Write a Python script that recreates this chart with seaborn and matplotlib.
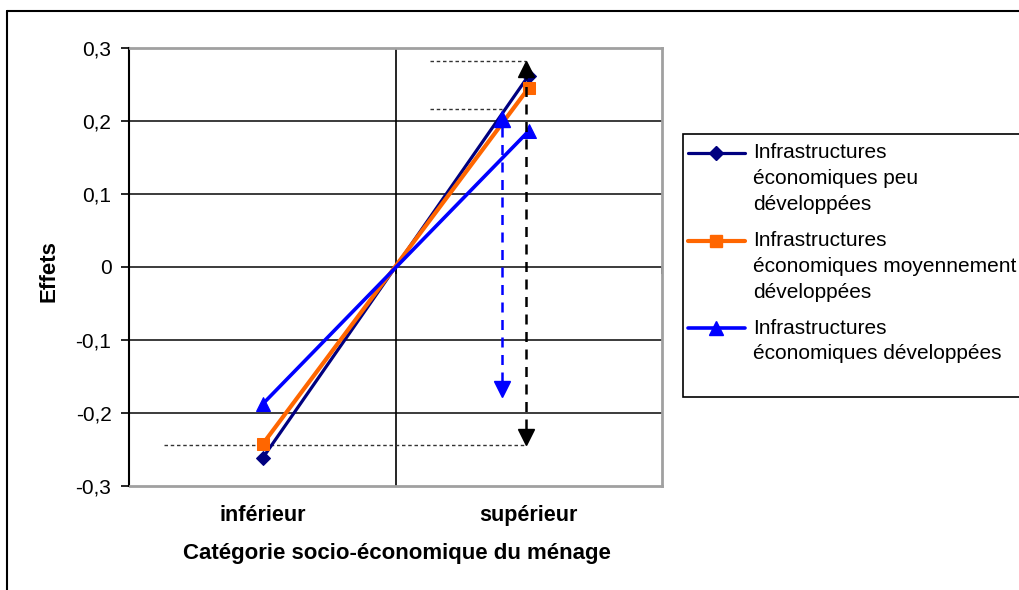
import numpy as np
import pandas as pd
import matplotlib
matplotlib.use("Agg")
import matplotlib.pyplot as plt
from matplotlib.lines import Line2D
from matplotlib.patches import Rectangle
from matplotlib.ticker import FuncFormatter, MultipleLocator
import seaborn as sns

# ---- data -------------------------------------------------------------
categories = ["inférieur", "supérieur"]
series_names = [
    ["Infrastructures", "économiques peu", "développées"],
    ["Infrastructures", "économiques moyennement", "développées"],
    ["Infrastructures", "économiques développées"],
]
effets_peu = [-0.262, 0.262]
effets_moyen = [-0.243, 0.245]
effets_dev = [-0.188, 0.186]

# guide arrows: x position (category units), lower tip, upper tip
arrow_black = [0.99, -0.243, 0.282]
arrow_blue = [0.90, -0.178, 0.213]
# dotted reference lines: y value, x start, x end
ref_top = [0.282, 0.63, 0.99]
ref_mid = [0.216, 0.63, 0.90]
ref_low = [-0.244, -0.37, 0.99]

# ---- style --------------------------------------------------------------
sns.set_style("white")
plt.rcParams["font.family"] = ["Liberation Sans", "DejaVu Sans"]
plt.rcParams["text.color"] = "black"
plt.rcParams["axes.labelcolor"] = "black"
plt.rcParams["xtick.color"] = "black"
plt.rcParams["ytick.color"] = "black"

colors = ["#000080", "#FF6600", "#0000FF"]
markers = ["D", "s", "^"]
msizes = [7.5, 8.5, 10]
lwidths = [2.3, 3.0, 2.6]

W, H = 1020, 590
fig = plt.figure(figsize=(W / 100, H / 100), dpi=100)
fig.patch.set_facecolor("white")

# axes placed in pixel terms
x0, x1, y0, y1 = 129.5, 661.5, 48, 486
ax = fig.add_axes([x0 / W, 1 - y1 / H, (x1 - x0) / W, (y1 - y0) / H])

df = pd.DataFrame({
    "pos": np.arange(len(categories)),
    "peu": effets_peu,
    "moyen": effets_moyen,
    "dev": effets_dev,
})

for col, c, m, ms, lw in zip(["peu", "moyen", "dev"], colors, markers, msizes, lwidths):
    sns.lineplot(data=df, x="pos", y=col, color=c, marker=m, markersize=ms,
                 markeredgecolor=c, linewidth=lw, ax=ax, legend=False, zorder=5)

ax.set_xlim(-0.5, len(categories) - 0.5)
ax.set_ylim(-0.3, 0.3)
ax.yaxis.set_major_locator(MultipleLocator(0.1))


def fmt(v, _):
    if abs(v) < 1e-9:
        return "0"
    return f"{v:.1f}".replace(".", ",")


ax.yaxis.set_major_formatter(FuncFormatter(fmt))
ax.set_xticks(df["pos"])
ax.set_xticklabels(categories, fontsize=15.5, fontweight="bold")
ax.tick_params(axis="x", length=0, pad=14)
ax.tick_params(axis="y", length=6, width=1.2, color="black", pad=7,
               labelsize=15, direction="out", left=True)

# grid
ax.grid(False)
for yv in np.arange(-0.2, 0.31, 0.1):
    ax.axhline(yv, color="#1a1a1a", lw=1.2, zorder=1)
ax.axvline(0.5, color="black", lw=1.2, zorder=1)
ax.plot([0.5, 1.5], [0, 0], ls="none", marker=3, ms=5,
        color="black", mew=1.2, clip_on=False, zorder=2)

for side in ["top", "right", "bottom"]:
    ax.spines[side].set_color("#a0a0a0")
    ax.spines[side].set_linewidth(2)
ax.spines["left"].set_color("black")
ax.spines["left"].set_linewidth(1.5)

ax.set_xlabel("Catégorie socio-économique du ménage", fontsize=16,
              fontweight="bold")
ax.xaxis.set_label_coords(0.503, -0.131)
ax.set_ylabel("Effets", fontsize=16, fontweight="bold")
ax.yaxis.set_label_coords(-0.131, 0.491)

# dotted reference lines
for yv, xa, xb in [ref_top, ref_mid, ref_low]:
    ax.plot([xa, xb], [yv, yv], ls=(0, (2.5, 2)), color="#333333", lw=1.0, zorder=3)

# double-headed dashed arrows
head = 15 / 730  # head height in data units
for (xv, ylo, yhi), c in [(arrow_blue, "#0000FF"), (arrow_black, "black")]:
    ax.plot([xv, xv], [ylo + head, yhi - head], ls=(0, (4, 3)), color=c, lw=1.8, zorder=6)
    ax.plot([xv], [yhi - head / 2], marker="^", ms=11, color=c, ls="none", zorder=7)
    ax.plot([xv], [ylo + head / 2], marker="v", ms=11, color=c, ls="none", zorder=7)

# legend box
fig.add_artist(Rectangle((683 / W, 1 - 397 / H), (1030 - 683) / W, (397 - 134) / H,
                         transform=fig.transFigure, facecolor="white",
                         edgecolor="black", lw=1.2, zorder=10))
entry_y = [153, 241, 328]
line_step = 25.5
for names, yy, c, m, ms, lw in zip(series_names, entry_y, colors, markers, msizes, lwidths):
    fig.add_artist(Line2D([688 / W, 745 / W], [1 - yy / H] * 2, color=c, lw=lw,
                          transform=fig.transFigure, zorder=11))
    fig.add_artist(Line2D([716.5 / W], [1 - yy / H], color=c, marker=m, ms=ms,
                          transform=fig.transFigure, zorder=12))
    for k, t in enumerate(names):
        fig.text(753 / W, 1 - (yy + k * line_step) / H, t, fontsize=15,
                 va="center", ha="left", zorder=12)

# outer chart frame
fig.add_artist(Line2D([7 / W, 7 / W], [0, 1 - 11 / H], color="black", lw=1.5,
                      transform=fig.transFigure))
fig.add_artist(Line2D([7 / W, 1], [1 - 11 / H, 1 - 11 / H], color="black", lw=1.5,
                      transform=fig.transFigure))

fig.savefig("out.png", dpi=100)
